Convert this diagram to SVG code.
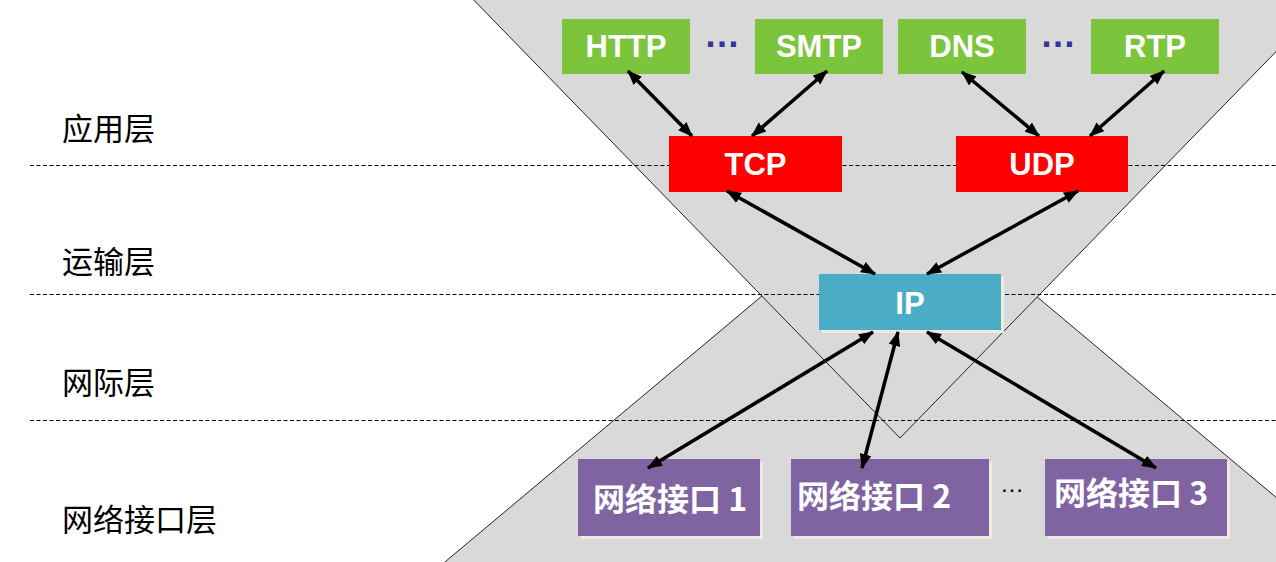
<svg xmlns="http://www.w3.org/2000/svg" width="1276" height="562" viewBox="0 0 1276 562">
<defs>
<marker id="ah" viewBox="0 0 14 11" refX="13" refY="5.5" markerWidth="15" markerHeight="12" markerUnits="userSpaceOnUse" orient="auto-start-reverse">
<path d="M0,0 L14,5.5 L0,11 z" fill="#000"/>
</marker>
</defs>
<style>
.tri{fill:#D9D9D9;stroke:#222;stroke-width:1}
.dash{stroke:#000;stroke-width:1;stroke-dasharray:4 2.5;fill:none}
.lbl{font-family:"Noto Sans CJK SC","Noto Sans",sans-serif;font-size:31px;fill:#000}
.g{fill:#7CC43C}
.r{fill:#FF0000}
.b{fill:#4BACC6}
.p{fill:#8064A2}
.sh{fill:#EEECE1}
.t{font-family:"Liberation Sans",Arial,sans-serif;font-weight:bold;font-size:31px;fill:#fff;text-anchor:middle}
.ct{font-family:"Noto Sans CJK SC","Noto Sans",sans-serif;font-weight:bold;font-size:32px;fill:#fff}
.ar{stroke:#000;stroke-width:3.5;fill:none;marker-start:url(#ah);marker-end:url(#ah)}
</style>
<rect width="1276" height="562" fill="#fff"/>
<g id="background">
<polygon class="tri" points="433,572 899,181 1365,572"/>
<polygon class="tri" points="464,-10 900,438 1336,-10"/>
</g>
<g id="layers">
<line class="dash" x1="30" y1="165.5" x2="1276" y2="165.5"/>
<line class="dash" x1="30" y1="294.5" x2="1276" y2="294.5"/>
<line class="dash" x1="30" y1="420.5" x2="1276" y2="420.5"/>
<text class="lbl" x="62" y="140">应用层</text>
<text class="lbl" x="62" y="273">运输层</text>
<text class="lbl" x="62" y="394">网际层</text>
<text class="lbl" x="62" y="531">网络接口层</text>
</g>
<g id="http"><rect class="g" x="562" y="19" width="128" height="55"/><text class="t" x="626" y="57">HTTP</text></g>
<g id="smtp"><rect class="g" x="755" y="19" width="128" height="55"/><text class="t" x="819" y="57">SMTP</text></g>
<g id="dns"><rect class="g" x="898" y="19" width="128" height="55"/><text class="t" x="962" y="57">DNS</text></g>
<g id="rtp"><rect class="g" x="1091" y="19" width="128" height="55"/><text class="t" x="1155" y="57">RTP</text></g>
<g id="dots-app">
<text x="722" y="47" font-family="Liberation Sans,Arial,sans-serif" font-size="36" font-weight="bold" fill="#333399" text-anchor="middle">…</text>
<text x="1058" y="47" font-family="Liberation Sans,Arial,sans-serif" font-size="36" font-weight="bold" fill="#333399" text-anchor="middle">…</text>
</g>
<g id="tcp"><rect class="r" x="669" y="136" width="173" height="56"/><text class="t" x="755.5" y="175">TCP</text></g>
<g id="udp"><rect class="r" x="956" y="136" width="172" height="56"/><text class="t" x="1042" y="175">UDP</text></g>
<g id="ip"><rect class="sh" x="822" y="277" width="182" height="56"/><rect class="b" x="819" y="274" width="182" height="56"/><text class="t" x="910" y="314">IP</text></g>
<g id="if1"><rect class="sh" x="581" y="462" width="182" height="77"/><rect class="p" x="578" y="459" width="182" height="77"/><text class="ct" x="593" y="511">网络接口 1</text></g>
<g id="if2"><rect class="sh" x="794" y="462" width="198" height="77"/><rect class="p" x="791" y="459" width="198" height="77"/><text class="ct" x="797" y="508">网络接口 2</text></g>
<g id="if3"><rect class="sh" x="1048" y="462" width="182" height="77"/><rect class="p" x="1045" y="459" width="182" height="77"/><text class="ct" x="1054" y="505">网络接口 3</text></g>
<g id="dots-if"><text x="1012" y="492" font-family="Liberation Sans,Arial,sans-serif" font-size="24" fill="#000" text-anchor="middle">…</text></g>
<g id="connectors">
<line class="ar" x1="628" y1="71" x2="692" y2="136"/>
<line class="ar" x1="827" y1="71" x2="752" y2="136"/>
<line class="ar" x1="962" y1="72" x2="1039" y2="136"/>
<line class="ar" x1="1164" y1="71" x2="1090" y2="136"/>
<line class="ar" x1="727" y1="191" x2="875" y2="274"/>
<line class="ar" x1="1078" y1="191" x2="927" y2="274"/>
<line class="ar" x1="873" y1="332" x2="648" y2="468"/>
<line class="ar" x1="898" y1="332" x2="862" y2="468"/>
<line class="ar" x1="927" y1="332" x2="1156" y2="468"/>
</g>
</svg>
